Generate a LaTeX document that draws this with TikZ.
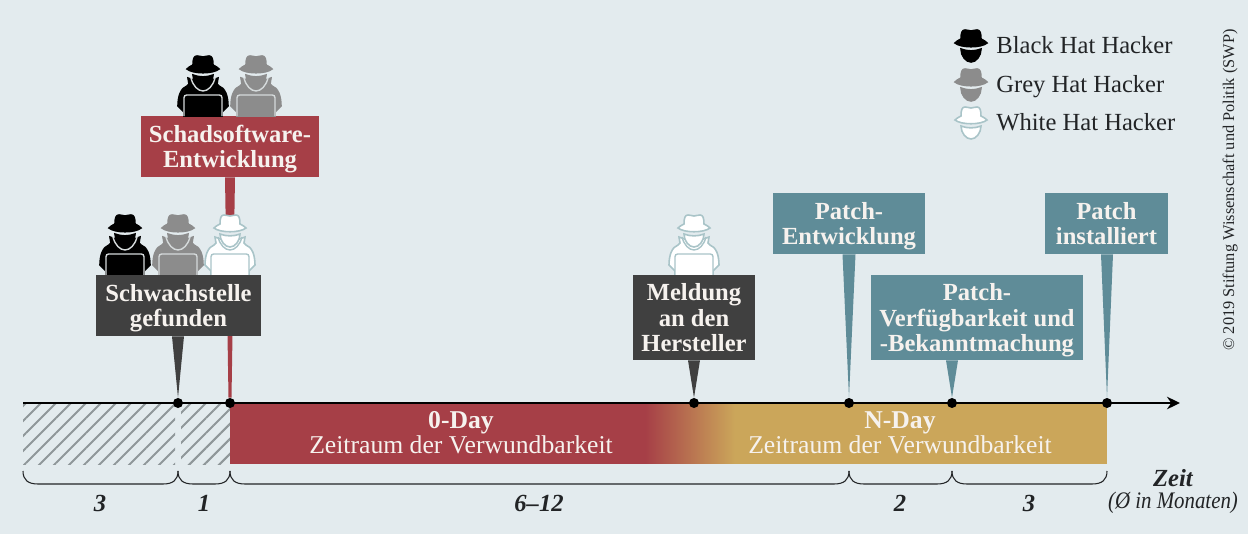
\documentclass[tikz,border=0pt]{standalone}
\usepackage{fontspec}
\setmainfont{Liberation Serif}
\usetikzlibrary{patterns.meta, arrows.meta}

\definecolor{paper}{HTML}{E3EBEE}
\definecolor{zeroday}{HTML}{A63F47}
\definecolor{nday}{HTML}{CBA65A}
\definecolor{darkbox}{HTML}{404040}
\definecolor{patchbox}{HTML}{5F8C98}
\definecolor{greyhat}{HTML}{8C8C8C}
\definecolor{whiteline}{HTML}{A9C4C8}
\definecolor{trimline}{HTML}{D5DADB}
\definecolor{hatchline}{HTML}{8F9799}
\definecolor{boxtext}{HTML}{F6F2EE}
\definecolor{inktext}{HTML}{222426}

\tikzset{
    boxlabel/.style={fill=#1, text=boxtext, font=\fontsize{14}{14.4}\selectfont\bfseries, align=center, inner sep=0pt, text depth=0pt, minimum height=1.22cm},
    bandlabel/.style={text=#1, font=\fontsize{14.6}{14.4}\selectfont, align=center, inner sep=0pt},
    legendlabel/.style={text=inktext, font=\fontsize{14}{14}\selectfont, anchor=base west, inner sep=0pt},
    countlabel/.style={text=inktext, font=\fontsize{14}{14}\selectfont\bfseries\itshape, inner sep=0pt},
    axisdot/.style={circle, fill=black, inner sep=0pt, minimum size=0.2cm},
    bracket/.style={draw=inktext, line width=0.6pt},
    pics/hatface/.style n args={2}{code={
        \path[fill=#1, draw=#2, line width=0.9pt] (-16,0) .. controls (-13,-3) and (-11,-3) .. (-10,-4) .. controls (-10,-10) and (-9,-13) .. (-6,-13) .. controls (-3,-13) and (-2,-12) .. (0,-12) .. controls (2,-12) and (3,-13) .. (6,-13) .. controls (9,-13) and (10,-10) .. (10,-4) .. controls (11,-3) and (13,-3) .. (16,0) .. controls (10,5) and (-10,5) .. (-16,0) -- cycle;
        \path[fill=#1, draw=#2, line width=0.9pt] (-10,6) .. controls (-4,8.5) and (4,8.5) .. (10,6) .. controls (10,13) and (5,19) .. (0,19) .. controls (-5,19) and (-10,13) .. (-10,6) -- cycle;
    }},
    pics/hacker/.style n args={3}{code={
        \path[fill=#1, draw=#2, line width=0.9pt] (-19,0) -- (-19,-4) -- (-25,-10) .. controls (-25,-20) and (-22,-28) .. (-16,-30) -- (-14,-32) -- (-15,-38) -- (-9,-36) -- (9,-36) -- (15,-38) -- (14,-32) -- (16,-30) .. controls (22,-28) and (25,-20) .. (25,-10) -- (19,-4) -- (19,0) -- cycle;
        \draw[#3, line width=0.8pt] (-12,-38) .. controls (-10,-30) and (-5,-25) .. (0,-25) .. controls (5,-25) and (10,-30) .. (12,-38);
        \path[fill=#1, draw=#3, line width=0.8pt, rounded corners=1.5pt] (-19,0) -- (-19,-21) -- (19,-21) -- (19,0);
        \fill[paper] (-10,-48) rectangle (10,-38);
        \pic at (0,-47) {hatface={#1}{#2}};
    }},
}

\begin{document}
\begin{tikzpicture}[x=0.02cm, y=-0.02cm, >={Stealth[length=0.26cm, width=0.25cm]}]

    \fill[paper] (0,0) rectangle (1248,534);

    % hatched months before the 0-day
    \fill[pattern={Lines[angle=45, distance=0.212cm, line width=0.04cm]}, pattern color=hatchline] (23,404) rectangle (175,464);
    \fill[pattern={Lines[angle=45, distance=0.212cm, line width=0.04cm]}, pattern color=hatchline] (181,404) rectangle (230,464);

    % band
    \fill[zeroday] (230,404) rectangle (645,464);
    \begin{scope}
        \clip (645,404) rectangle (735,464);
        \shade[left color=zeroday, right color=nday] (645,390) rectangle (735,478);
    \end{scope}
    \fill[nday] (735,404) rectangle (1107,464);
    \fill[paper] (640,464) rectangle (740,469);

    \node[bandlabel=boxtext] (zd) at (461,433) {\textbf{0-Day}\\Zeitraum der Verwundbarkeit};
    \node[bandlabel=boxtext] (nd) at (900,433) {\textbf{N-Day}\\Zeitraum der Verwundbarkeit};

    % axis
    \coordinate (a0) at (23,403);
    \coordinate (a1) at (1180,403);
    \draw[->, line width=1.4pt] (a0) -- (a1);

    \node[axisdot] (d1) at (178,403) {};
    \node[axisdot] (d2) at (230,403) {};
    \node[axisdot] (d3) at (694,403) {};
    \node[axisdot] (d4) at (849,403) {};
    \node[axisdot] (d5) at (952,403) {};
    \node[axisdot] (d6) at (1107,403) {};

    % malware box sits behind the lower hackers
    \node[boxlabel=zeroday, minimum width=3.56cm] (sw) at (230,146.5) {Schadsoftware-\\Entwicklung};
    \fill[zeroday] ([xshift=-0.1cm]d2 |- sw.south) -- ([xshift=-0.03cm]d2.north) -- ([xshift=0.03cm]d2.north) -- ([xshift=0.1cm]d2 |- sw.south) -- cycle;

    \pic at (203,116) {hacker={black}{black}{trimline}};
    \pic at (256,116) {hacker={greyhat}{greyhat}{trimline}};

    \pic at (125,275) {hacker={black}{black}{trimline}};
    \pic at (178,275) {hacker={greyhat}{greyhat}{trimline}};
    \pic at (230,275) {hacker={white}{whiteline}{whiteline}};
    \pic at (694,275) {hacker={white}{whiteline}{whiteline}};

    \node[boxlabel=darkbox, minimum width=3.3cm] (sg) at (178.5,305.5) {Schwachstelle\\gefunden};
    \node[boxlabel=darkbox, minimum width=2.44cm, minimum height=1.7cm] (mh) at (694,317.5) {Meldung\\an den\\Hersteller};
    \node[boxlabel=patchbox, minimum width=3.04cm] (pe) at (849,223.5) {Patch-\\Entwicklung};
    \node[boxlabel=patchbox, minimum width=4.24cm, minimum height=1.7cm] (pv) at (977,317.5) {Patch-\\Verfügbarkeit und\\-Bekanntmachung};
    \node[boxlabel=patchbox, minimum width=2.46cm] (pi) at (1106.5,223.5) {Patch\\installiert};

    \fill[darkbox] ([xshift=-0.12cm]d1 |- sg.south) -- (d1.north) -- ([xshift=0.12cm]d1 |- sg.south) -- cycle;
    \fill[darkbox] ([xshift=-0.12cm]d3 |- mh.south) -- (d3.north) -- ([xshift=0.12cm]d3 |- mh.south) -- cycle;
    \fill[patchbox] ([xshift=-0.13cm]d4 |- pe.south) -- (d4.north) -- ([xshift=0.13cm]d4 |- pe.south) -- cycle;
    \fill[patchbox] ([xshift=-0.12cm]d5 |- pv.south) -- (d5.north) -- ([xshift=0.12cm]d5 |- pv.south) -- cycle;
    \fill[patchbox] ([xshift=-0.12cm]d6 |- pi.south) -- (d6.north) -- ([xshift=0.12cm]d6 |- pi.south) -- cycle;

    % legend
    \pic at (971,43) {hatface={black}{black}};
    \pic at (971,82) {hatface={greyhat}{greyhat}};
    \pic at (971,120) {hatface={white}{whiteline}};
    \node[legendlabel] (lb) at (996,53) {Black Hat Hacker};
    \node[legendlabel] (lg) at (996,92) {Grey Hat Hacker};
    \node[legendlabel] (lw) at (996,130) {White Hat Hacker};

    \node[rotate=90, text=inktext, font=\fontsize{9.3}{10}\selectfont, inner sep=0pt] (cr) at (1230,190) {© 2019 Stiftung Wissenschaft und Politik (SWP)};

    % braces
    \draw[bracket] (23,471) .. controls (23,480) and (28,484) .. (38,484) -- (163,484) .. controls (173,484) and (178,480) .. (178,471);
    \draw[bracket] (178,471) .. controls (178,480) and (183,484) .. (193,484) -- (215,484) .. controls (225,484) and (230,480) .. (230,471);
    \draw[bracket] (230,471) .. controls (230,480) and (235,484) .. (245,484) -- (834,484) .. controls (844,484) and (849,480) .. (849,471);
    \draw[bracket] (849,471) .. controls (849,480) and (854,484) .. (864,484) -- (937,484) .. controls (947,484) and (952,480) .. (952,471);
    \draw[bracket] (952,471) .. controls (952,480) and (957,484) .. (967,484) -- (1092,484) .. controls (1102,484) and (1107,480) .. (1107,471);

    \node[countlabel] (c1) at (100,503) {3};
    \node[countlabel] (c2) at (204,503) {1};
    \node[countlabel] (c3) at (539,503) {6--12};
    \node[countlabel] (c4) at (900,503) {2};
    \node[countlabel] (c5) at (1029,503) {3};

    \node[countlabel] (zt) at (1173,478) {Zeit};
    \node[text=inktext, font=\fontsize{13.5}{14}\selectfont\itshape\addfontfeature{FakeStretch=0.88}, inner sep=0pt] (zm) at (1173,503) {(Ø in Monaten)};

\end{tikzpicture}
\end{document}
